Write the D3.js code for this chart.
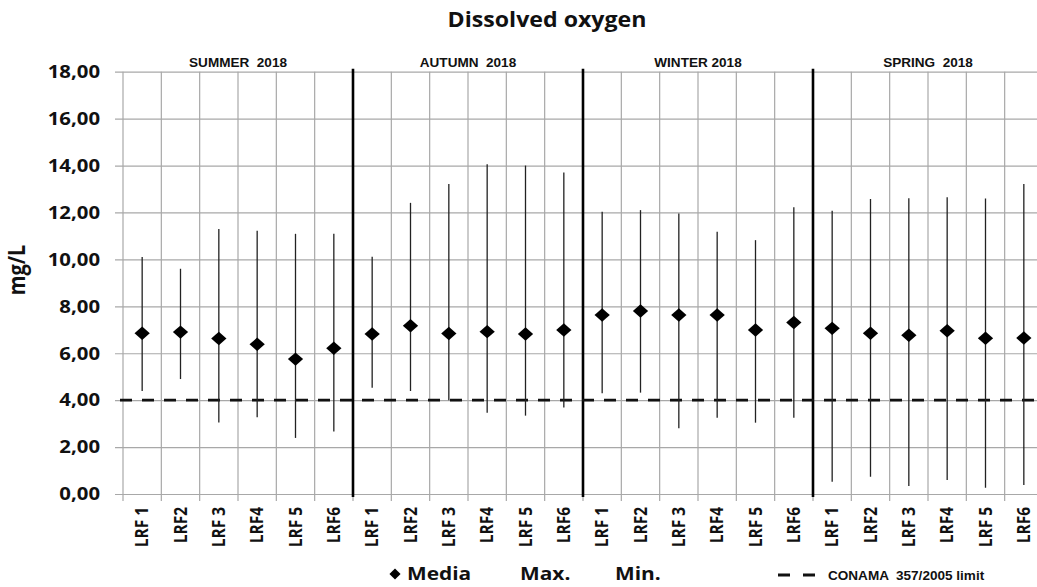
<!DOCTYPE html>
<html>
<head>
<meta charset="utf-8">
<script src="https://cdn.jsdelivr.net/npm/d3@7"></script>
<style>
  body { margin: 0; background: #fff; }
  text { fill: #111; }
</style>
</head>
<body>
<svg width="1037" height="587"></svg>
<script>
// Data
const seasons = ["SUMMER  2018", "AUTUMN  2018", "WINTER 2018", "SPRING  2018"];
const sites = ["LRF 1", "LRF2", "LRF 3", "LRF4", "LRF 5", "LRF6"];

const meanValues = [6.85, 6.90, 6.63, 6.38, 5.75, 6.21,
                    6.82, 7.17, 6.84, 6.92, 6.82, 6.99,
                    7.63, 7.80, 7.63, 7.63, 6.99, 7.31,
                    7.06, 6.85, 6.77, 6.96, 6.64, 6.65];
const maxValues = [10.10, 9.60, 11.30, 11.22, 11.09, 11.09,
                   10.11, 12.41, 13.21, 14.05, 14.00, 13.70,
                   12.03, 12.10, 11.96, 11.18, 10.82, 12.22,
                   12.07, 12.57, 12.61, 12.65, 12.60, 13.21];
const minValues = [4.39, 4.90, 3.05, 3.27, 2.39, 2.66,
                   4.53, 4.39, 4.00, 3.46, 3.34, 3.69,
                   4.29, 4.32, 2.80, 3.25, 3.04, 3.25,
                   0.52, 0.74, 0.34, 0.60, 0.27, 0.38];
const limitValue = 4;
const yTicks = [0, 2, 4, 6, 8, 10, 12, 14, 16, 18];

const svg = d3.select("svg");
const sx = 1.13; // the picture is a bit wider than tall text would be
const bold = "'Open Sans', sans-serif";
const arial = "'Liberation Sans', Arial, sans-serif";

const plotLeft = 123, plotRight = 1043, plotTop = 71.7, plotBottom = 494;

// One row per point
const rows = seasons.flatMap(function(s, i) {
  return sites.map(function(site, j) {
    const k = i * 6 + j;
    return {i: k, season: s, site: site, mean: meanValues[k], max: maxValues[k], min: minValues[k]};
  });
});

const x = d3.scaleBand().domain(d3.range(rows.length)).range([plotLeft, plotRight]);
const xs = d3.scaleBand().domain(seasons).range([plotLeft, plotRight]);
const y = d3.scaleLinear().domain([0, 18]).range([plotBottom, plotTop]);

const comma = d3.formatLocale({decimal: ",", thousands: ".", grouping: [3], currency: ["", ""]}).format(".2f");

function stretched(g, px, py) {
  return g.append("text").attr("transform", "translate(" + px + "," + py + ") scale(" + sx + ",1)");
}

// Y axis with gridlines
const yAxis = svg.append("g")
    .attr("transform", "translate(" + plotLeft + ",0)")
    .call(d3.axisLeft(y).tickValues(yTicks).tickFormat(comma)
      .tickSizeInner(-(plotRight - plotLeft)).tickSizeOuter(0).tickPadding(23 / sx));
yAxis.select(".domain").remove();
yAxis.selectAll(".tick line")
    .attr("x1", -8)
    .attr("stroke", "#a8a8a8")
    .attr("stroke-width", 1.2);
yAxis.selectAll(".tick text")
    .attr("transform", "scale(" + sx + ",1)")
    .attr("font-family", bold)
    .attr("font-weight", 700)
    .attr("font-size", 18)
    .attr("fill", "#111");

// Vertical gridlines at category edges
const edges = d3.range(rows.length + 1).map(function(k) { return plotLeft + k * x.step(); });
svg.append("g").selectAll("line")
    .data(edges)
    .enter().append("line")
    .attr("x1", function(d) { return d; })
    .attr("x2", function(d) { return d; })
    .attr("y1", plotTop)
    .attr("y2", plotBottom + 7)
    .attr("stroke", "#a8a8a8")
    .attr("stroke-width", 1.2);

// X labels
const xAxis = svg.append("g")
    .attr("transform", "translate(0," + plotBottom + ")")
    .call(d3.axisBottom(x).tickSize(0).tickFormat(function(k) { return rows[k].site; }));
xAxis.select(".domain").remove();
xAxis.selectAll(".tick text")
    .attr("transform", "rotate(-90) scale(1," + sx + ")")
    .attr("text-anchor", "end")
    .attr("x", -13)
    .attr("y", 0)
    .attr("dy", "0.36em")
    .attr("font-family", bold)
    .attr("font-weight", 700)
    .attr("font-size", 15.5)
    .attr("fill", "#111");

// Season separators
svg.append("g").selectAll("line")
    .data(seasons.slice(1))
    .enter().append("line")
    .attr("x1", function(d) { return xs(d); })
    .attr("x2", function(d) { return xs(d); })
    .attr("y1", plotTop - 3)
    .attr("y2", plotBottom + 3)
    .attr("stroke", "#000")
    .attr("stroke-width", 2.6);

// Season titles
const seasonG = svg.append("g");
seasons.forEach(function(s) {
  stretched(seasonG, xs(s) + xs.bandwidth() / 2, 67)
      .attr("text-anchor", "middle")
      .attr("font-family", arial)
      .attr("font-weight", 700)
      .attr("font-size", 12)
      .style("white-space", "pre")
      .text(s);
});

// CONAMA limit
svg.append("line")
    .attr("x1", 120)
    .attr("x2", plotRight)
    .attr("y1", y(limitValue))
    .attr("y2", y(limitValue))
    .attr("stroke", "#111")
    .attr("stroke-width", 2.6)
    .attr("stroke-dasharray", "12,10");

// Max - min whiskers
svg.append("g").selectAll("line")
    .data(rows)
    .enter().append("line")
    .attr("x1", function(d) { return x(d.i) + x.bandwidth() / 2; })
    .attr("x2", function(d) { return x(d.i) + x.bandwidth() / 2; })
    .attr("y1", function(d) { return y(d.max); })
    .attr("y2", function(d) { return y(d.min); })
    .attr("stroke", "#222")
    .attr("stroke-width", 1.3);

// Means
const diamond = d3.symbol().type(d3.symbolSquare).size(100);
svg.append("g").selectAll("path")
    .data(rows)
    .enter().append("path")
    .attr("d", diamond)
    .attr("transform", function(d) {
      return "translate(" + (x(d.i) + x.bandwidth() / 2) + "," + y(d.mean) + ") scale(1.08,0.95) rotate(45)";
    })
    .attr("fill", "#000");

// Title and axis name
stretched(svg, 547, 27)
    .attr("text-anchor", "middle")
    .attr("font-family", bold)
    .attr("font-weight", 700)
    .attr("font-size", 20.5)
    .text("Dissolved oxygen");

svg.append("text")
    .attr("transform", "translate(25,270) rotate(-90) scale(1," + sx + ")")
    .attr("text-anchor", "middle")
    .attr("font-family", bold)
    .attr("font-weight", 700)
    .attr("font-size", 20)
    .text("mg/L");

// Legend
const legend = svg.append("g");
legend.append("path")
    .attr("d", d3.symbol().type(d3.symbolSquare).size(62))
    .attr("transform", "translate(395,574) rotate(45)")
    .attr("fill", "#000");
stretched(legend, 407, 580).attr("font-family", bold).attr("font-weight", 700).attr("font-size", 18.5).text("Media");
stretched(legend, 520, 580).attr("font-family", bold).attr("font-weight", 700).attr("font-size", 18.5).text("Max.");
stretched(legend, 615, 580).attr("font-family", bold).attr("font-weight", 700).attr("font-size", 18.5).text("Min.");
legend.append("line")
    .attr("x1", 778).attr("x2", 817)
    .attr("y1", 575).attr("y2", 575)
    .attr("stroke", "#111")
    .attr("stroke-width", 3)
    .attr("stroke-dasharray", "12,13");
stretched(legend, 828, 580)
    .attr("font-family", arial)
    .attr("font-weight", 700)
    .attr("font-size", 12)
    .style("white-space", "pre")
    .text("CONAMA  357/2005 limit");
</script>
</body>
</html>
